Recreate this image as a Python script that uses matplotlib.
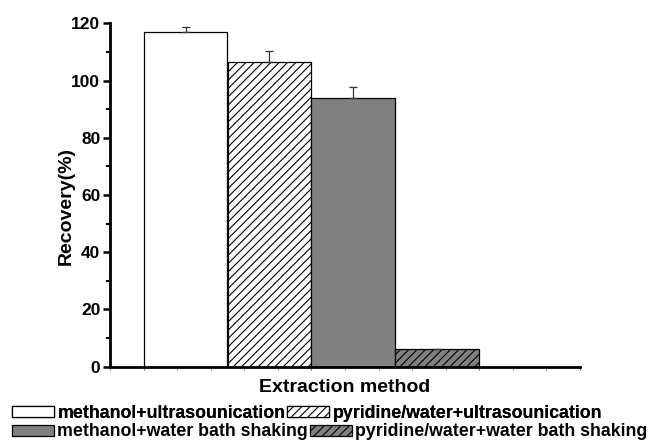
import matplotlib
matplotlib.use("Agg")
import matplotlib.pyplot as plt
from matplotlib.ticker import MultipleLocator

plt.rcParams['font.family'] = ['Liberation Sans', 'DejaVu Sans']
plt.rcParams['font.weight'] = 'bold'
plt.rcParams['hatch.linewidth'] = 0.8

# data
methods = ["methanol+ultrasounication", "pyridine/water+ultrasounication",
           "methanol+water bath shaking", "pyridine/water+water bath shaking"]
recovery = [117.0, 106.5, 93.9, 6.1]
errors = [1.8, 3.8, 3.8, 0.2]
colors = ["white", "white", "#808080", "#808080"]
hatches = ["", "////", "", "////"]

fig = plt.figure(figsize=(6.57, 4.45), dpi=100)
ax = fig.add_axes([110/657, 78.3/445, 470/657, 343.4/445])

# bars sit on a 0..14 x scale, width 2.5 each
width = 2.5
handles = []
for i in range(len(methods)):
    x0 = 1 + i*width
    b = ax.bar(x0, recovery[i], width=width, align='edge', color=colors[i],
               edgecolor='black', linewidth=0.9, hatch=hatches[i], label=methods[i])
    handles.append(b)
    ax.errorbar(x0 + width/2, recovery[i], yerr=[[0], [errors[i]]], fmt='none',
                ecolor='#333333', elinewidth=0.9, capsize=3, capthick=0.9)

ax.set_xlim(0, 14)
ax.set_ylim(0, 120)
ax.yaxis.set_major_locator(MultipleLocator(20))
ax.yaxis.set_minor_locator(MultipleLocator(10))
ax.xaxis.set_major_locator(MultipleLocator(1))
ax.set_xticklabels([])
ax.tick_params(axis='x', which='major', length=2, width=0.6, color='#555555')
ax.tick_params(axis='y', which='major', length=5, width=1.8, labelsize=12.5, pad=2)
ax.tick_params(axis='y', which='minor', length=3, width=1.5)
for lab in ax.get_yticklabels():
    lab.set_fontweight('bold')

ax.spines['top'].set_visible(False)
ax.spines['right'].set_visible(False)
ax.spines['left'].set_linewidth(2)
ax.spines['bottom'].set_linewidth(2)

ax.set_ylabel("Recovery(%)", fontsize=14, fontweight='bold')
ax.yaxis.set_label_coords(-0.074, 0.468)
ax.set_xlabel("Extraction method", fontsize=14, fontweight='bold', labelpad=3)

# legend flows in two rows, like the original
leg_kw = dict(ncol=2, loc='center left', frameon=False,
              prop={'weight': 'bold', 'size': 12.8}, handlelength=2.35, handleheight=0.55,
              handletextpad=0.2, columnspacing=0.1, borderaxespad=0, borderpad=0)
leg1 = fig.legend(handles=handles[:2], labels=methods[:2],
                  bbox_to_anchor=(12/657, 1 - 413/445), **leg_kw)
fig.add_artist(leg1)
fig.legend(handles=handles[2:], labels=methods[2:],
           bbox_to_anchor=(12/657, 1 - 432/445), **leg_kw)

fig.savefig("out.png", dpi=100)
